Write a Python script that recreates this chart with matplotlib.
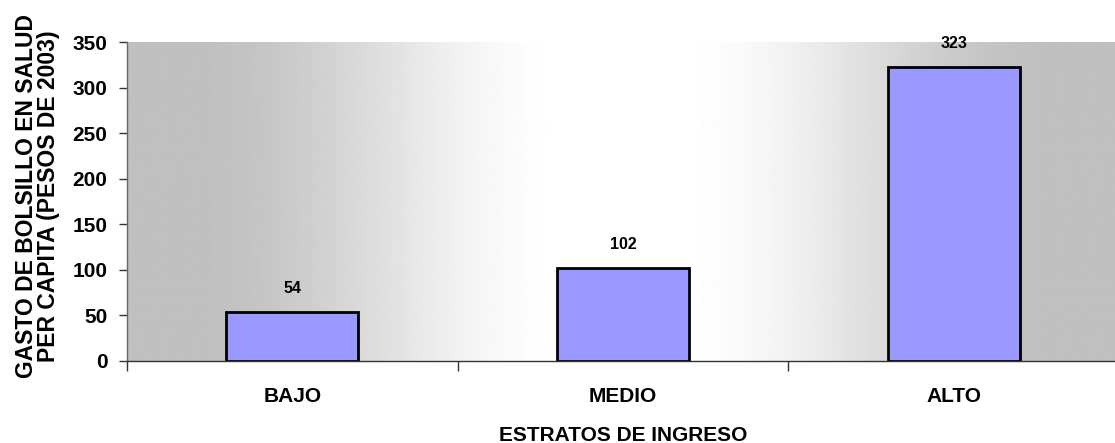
import matplotlib
matplotlib.use("Agg")
import matplotlib.pyplot as plt
import numpy as np

categories = ["BAJO", "MEDIO", "ALTO"]
values = [54, 102, 323]
yticks = [0, 50, 100, 150, 200, 250, 300, 350]

plt.rcParams['font.family'] = ['Liberation Sans', 'DejaVu Sans']
plt.rcParams['font.weight'] = 'bold'

fig = plt.figure(figsize=(11.15, 4.43), dpi=100)
ax = fig.add_axes([127/1115, 1-361/443, (1119-127)/1115, (361-42)/443])

x = np.arange(len(categories))
ax.set_xlim(-0.5, 2.5)
ax.set_ylim(0, 350)

# horizontal gradient background: gray at edges, white in the middle
t = np.linspace(-1, 1, 1024)
s = np.clip((0.87 - np.abs(t)) / (0.87 - 0.10), 0, 1)
s = s * s * (3 - 2 * s)
g = 0.752 + 0.248 * s
grad = np.tile(g, (2, 1))
ax.imshow(grad, cmap='gray', vmin=0, vmax=1, aspect='auto',
          extent=[-0.5, 2.5, 0, 350], zorder=0, interpolation='bilinear')

ax.bar(x, values, width=0.4, color='#9999FF', edgecolor='black', linewidth=2, zorder=2)

for xi, v in zip(x, values):
    ax.annotate(str(v), (xi, v), xytext=(0, 11.5), textcoords='offset points',
                ha='center', va='bottom', fontsize=11.5, fontweight='bold')

ax.set_yticks(yticks)
ax.set_yticklabels([str(v) for v in yticks], fontsize=15, fontweight='bold')
ax.set_xticks(x)
ax.set_xticklabels(categories, fontsize=15, fontweight='bold')
ax.tick_params(axis='x', which='major', length=0, pad=19)
ax.set_xticks([-0.5, 0.5, 1.5, 2.5], minor=True)
ax.tick_params(axis='x', which='minor', length=7, width=1, color='#333333', direction='out')
ax.tick_params(axis='y', length=6, width=1, color='#333333', direction='out', pad=8)

for s_ in ['top', 'right']:
    ax.spines[s_].set_visible(False)
ax.spines['left'].set_color('#666666')
ax.spines['bottom'].set_color('#333333')
ax.spines['left'].set_linewidth(1)
ax.spines['bottom'].set_linewidth(1)

ax.set_xlabel("ESTRATOS DE INGRESO", fontsize=15, fontweight='bold', labelpad=14)
ax.set_ylabel("GASTO DE BOLSILLO EN SALUD\nPER CAPITA (PESOS DE 2003)", fontsize=16.5,
              fontweight='bold', linespacing=0.95)
ax.yaxis.set_label_coords(-0.0675, 0.516)

fig.savefig("out.png", dpi=100)
